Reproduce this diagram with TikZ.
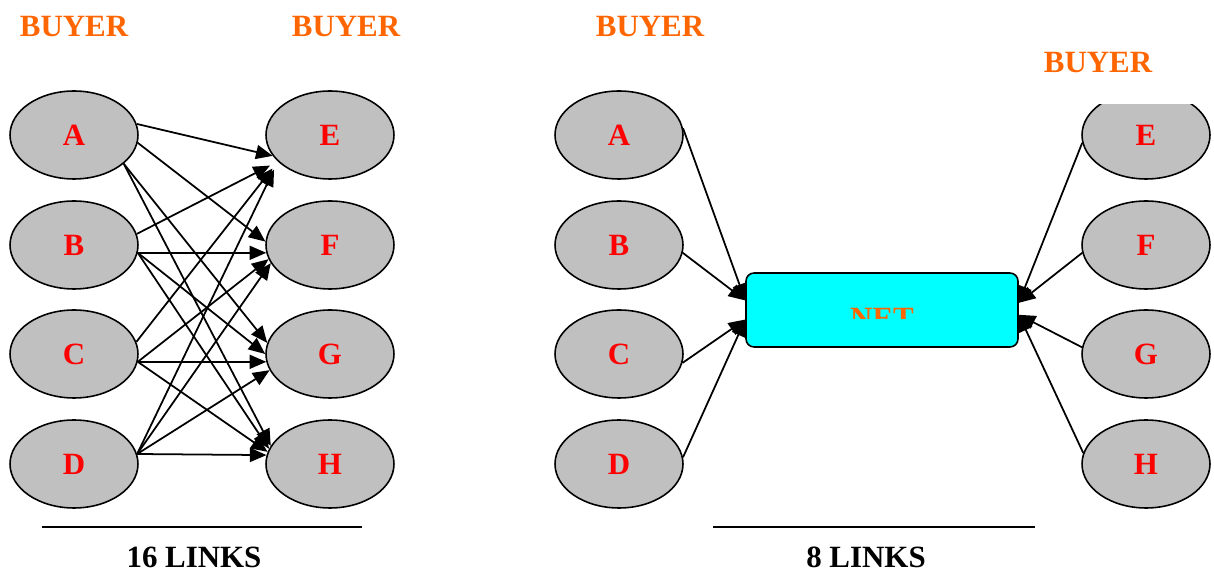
\documentclass[tikz,border=0pt]{standalone}
\usepackage{fontspec}
\setmainfont{Liberation Serif}
\usetikzlibrary{arrows.meta,shapes.geometric}
\definecolor{buyerorange}{HTML}{FF6600}
\definecolor{partygray}{HTML}{C0C0C0}
\definecolor{netcyan}{HTML}{00FFFF}
\begin{document}
\begin{tikzpicture}[x=0.02cm,y=-0.02cm,
  bigfont/.style={font=\fontsize{17.6}{20}\selectfont\bfseries},
  party/.style={ellipse, draw=black, line width=0.9pt, fill=partygray,
    minimum width=2.56cm, minimum height=1.76cm, inner sep=0pt,
    text=red, bigfont},
  buyerlbl/.style={text=buyerorange, bigfont, inner sep=0pt},
  countlbl/.style={text=black, bigfont, inner sep=0pt},
  link/.style={line width=1pt, -{Triangle[length=9.5pt,width=8pt]}},
  netbox/.style={draw=black, line width=0.9pt, fill=netcyan, rounded corners=0.16cm,
    minimum width=5.44cm, minimum height=1.48cm, inner sep=0pt}
]
\useasboundingbox (0,0) rectangle (1214,580);

% ---------- left panel ----------
\node[buyerlbl] (bl1) at (74,27) {BUYER};
\node[buyerlbl] (bl2) at (346,27) {BUYER};

\node[party] (A) at (74,135) {A};
\node[party] (B) at (74,245) {B};
\node[party] (C) at (74,354) {C};
\node[party] (D) at (74,464) {D};
\node[party] (E) at (330,135) {E};
\node[party] (F) at (330,245) {F};
\node[party] (G) at (330,354) {G};
\node[party] (H) at (330,464) {H};

\draw[link] (A.10) -- (E.200);
\draw[link] (A.-7) -- (F.177);
\draw[link] (A.-30) -- (G.170);
\draw[link] (A.-30) -- (H.163);
\draw[link, shorten >=5pt] (B.10) -- (E.207);
\draw[link] (B.-7) -- (F.187);
\draw[link] (B.-7) -- (G.180);
\draw[link] (B.-7) -- (H.166);
\draw[link, shorten >=5pt] (C.11) -- (E.207);
\draw[link] (C.-7) -- (F.193);
\draw[link] (C.-7) -- (G.187);
\draw[link] (C.-7) -- (H.169);
\draw[link, shorten >=5pt] (D.9) -- (E.207);
\draw[link] (D.9) -- (F.197);
\draw[link] (D.9) -- (G.195);
\draw[link] (D.9) -- (H.172);

\draw[line width=1pt] (42,527) -- (362,527);
\node[countlbl] (n16) at (194,557) {16 LINKS};

% ---------- right panel ----------
\node[buyerlbl] (br1) at (650,27) {BUYER};
\node[buyerlbl] (br2) at (1098,63) {BUYER};

\node[party] (A2) at (619,135) {A};
\node[party] (B2) at (619,245) {B};
\node[party] (C2) at (619,354) {C};
\node[party] (D2) at (619,464) {D};
\begin{scope}
  \clip (1060,105) rectangle (1214,190);
  \node[party] (E2) at (1146,135) {E};
\end{scope}
\node[party] (F2) at (1146,245) {F};
\node[party] (G2) at (1146,354) {G};
\node[party] (H2) at (1146,464) {H};

\node[netbox] (NET) at (882,310) {};
\begin{scope}
  \clip (746,273) rectangle (1018,319);
  \node[buyerlbl] (nettext) at (882,318) {NET};
\end{scope}

\draw[link] (A2.6) -- (NET.176);
\draw[link] (B2.-7) -- (NET.176);
\draw[link] (C2.-8) -- (NET.184);
\draw[link] (D2.6) -- (NET.184);
\draw[link] (E2.187) -- (NET.3);
\draw[link] (F2.187) -- (NET.3);
\draw[link] (G2.174) -- (NET.-2);
\draw[link] (H2.170) -- (NET.-2);

\draw[line width=1pt] (713,527) -- (1035,527);
\node[countlbl] (n8) at (866,557) {8 LINKS};
\end{tikzpicture}
\end{document}
